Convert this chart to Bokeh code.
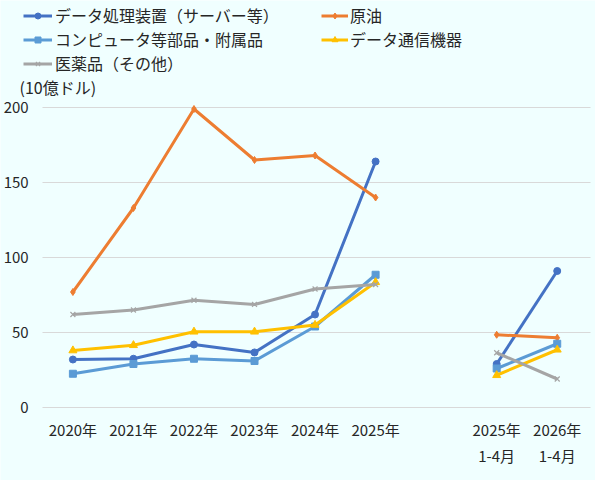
from bokeh.plotting import figure
from bokeh.models import Range1d, FixedTicker, Legend, LegendItem, Label
from bokeh.embed import file_html
from bokeh.resources import INLINE

# ---- data ----
years = ["2020年", "2021年", "2022年", "2023年", "2024年", "2025年"]
periods = ["2025年\n1-4月", "2026年\n1-4月"]
tick_labels = years + [""] + periods
y_ticks = [0, 50, 100, 150, 200]

names = ["データ処理装置（サーバー等）", "原油", "コンピュータ等部品・附属品",
         "データ通信機器", "医薬品（その他）"]
unit_text = "(10億ドル)"

data_proc_annual = [32, 32.5, 42, 36.7, 62, 164]
data_proc_period = [29, 91]
crude_annual = [77, 133, 199, 165, 168, 140]
crude_period = [48.5, 46.5]
parts_annual = [22.5, 29, 32.5, 31, 54, 88.5]
parts_period = [26, 42.5]
telecom_annual = [38, 41.5, 50.5, 50.5, 55, 83.5]
telecom_period = [21.5, 38.5]
pharma_annual = [62, 65, 71.5, 68.7, 79, 82]
pharma_period = [36.5, 19]

annual = [data_proc_annual, crude_annual, parts_annual, telecom_annual, pharma_annual]
period = [data_proc_period, crude_period, parts_period, telecom_period, pharma_period]

colors = ["#4472C4", "#ED7D31", "#5B9BD5", "#FFC000", "#A5A5A5"]
markers = ["circle", "diamond", "square", "triangle", "x"]
msizes = [7, 7, 7, 8, 7]
mlw = [1, 1, 1, 1, 1.2]

x_annual = list(range(len(years)))
x_period = [len(years) + 1 + i for i in range(len(periods))]

FONT = "Noto Sans CJK JP"
BG = "#F0FFFF"
TXT = "#262626"
W, H = 595, 480

# frame covers the whole canvas; axes are pinned inside it
PX_X = 60.54            # pixels per category
X0 = 72.4               # pixel of first category
PX_Y = 1.5              # pixels per unit
Y0 = 407                # pixel of zero line
x_start = -X0 / PX_X
x_end = (W - X0) / PX_X
y_start = -(H - Y0) / PX_Y
y_end = Y0 / PX_Y
plot_left = -0.5        # left edge of plot area (category units)
plot_right = 8.55

p = figure(width=W, height=H, output_backend="svg", toolbar_location=None,
           x_range=Range1d(x_start, x_end), y_range=Range1d(y_start, y_end),
           min_border=0)
p.background_fill_color = BG
p.border_fill_color = BG
p.outline_line_color = None

p.xgrid.grid_line_color = None
p.ygrid.grid_line_color = "#D9D9D9"
p.ygrid.grid_line_width = 1
try:
    p.ygrid.cross_bounds = (plot_left, plot_right)
except Exception:
    pass

p.yaxis.ticker = FixedTicker(ticks=y_ticks)
p.xaxis.ticker = FixedTicker(ticks=list(range(len(tick_labels))))
p.xaxis.major_label_overrides = {i: t for i, t in enumerate(tick_labels)}
p.yaxis.fixed_location = plot_left
p.xaxis.fixed_location = 0
for ax in (p.xaxis, p.yaxis):
    ax.axis_line_color = None
    ax.major_tick_line_color = None
    ax.minor_tick_line_color = None
    ax.major_tick_out = 0
    ax.major_tick_in = 0
    ax.minor_tick_out = 0
    ax.minor_tick_in = 0
    ax.major_label_text_font = FONT
    ax.major_label_text_font_size = "15px"
    ax.major_label_text_color = TXT
p.yaxis.major_label_standoff = 14
p.xaxis.major_label_standoff = 11
p.xaxis.major_label_text_line_height = 1.26

items = []
for i in range(len(names)):
    r1 = p.line(x_annual, annual[i], line_color=colors[i], line_width=3)
    p.line(x_period, period[i], line_color=colors[i], line_width=3)
    s1 = p.scatter(x_annual, annual[i], marker=markers[i], size=msizes[i],
                   fill_color=colors[i], line_color=colors[i], line_width=mlw[i])
    p.scatter(x_period, period[i], marker=markers[i], size=msizes[i],
              fill_color=colors[i], line_color=colors[i], line_width=mlw[i])
    items.append(LegendItem(label=names[i], renderers=[r1, s1]))

def make_legend(its, loc, gw, so):
    return Legend(items=its, location=loc, orientation="vertical",
                  background_fill_alpha=0, border_line_alpha=0,
                  padding=0, margin=0, spacing=0,
                  glyph_width=gw, glyph_height=15, label_height=24,
                  label_standoff=so,
                  label_text_font=FONT, label_text_font_size="16px",
                  label_text_color=TXT)

p.add_layout(make_legend([items[0], items[2], items[4]], (23, 405), 29, 3))
p.add_layout(make_legend([items[1], items[3]], (321, 429), 27, 2))

p.add_layout(Label(x=x_start + 19 / PX_X, y=(Y0 - 86) / PX_Y, text=unit_text,
                   text_font=FONT, text_font_size="16px", text_color=TXT,
                   text_baseline="middle", text_align="left"))

open("out.html", "w").write(file_html(p, INLINE))
